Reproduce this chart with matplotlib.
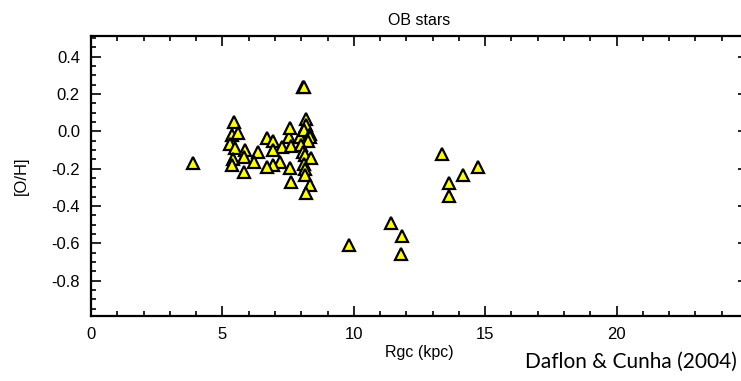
import numpy as np
import matplotlib
matplotlib.use("Agg")
import matplotlib.pyplot as plt
from matplotlib.ticker import MultipleLocator

plt.rcParams['font.family'] = ['Liberation Sans', 'DejaVu Sans']
plt.rcParams['axes.unicode_minus'] = False

# galactocentric distance (kpc) and [O/H] of OB stars
rgc = [3.9, 5.45, 5.35, 5.6, 5.3, 5.48, 5.85, 6.35, 5.4, 5.82, 6.2, 5.35, 5.82,
       6.68, 6.93, 7.55, 7.59, 7.95, 8.07, 8.12, 8.2, 8.2, 8.1, 8.33, 8.35, 8.25,
       7.25, 7.6, 8.0, 6.93, 8.07, 8.15, 8.39, 7.2, 6.93, 6.68, 7.57, 8.1, 8.14,
       8.14, 7.6, 8.35, 8.2,
       9.8, 11.43, 11.85, 11.79,
       13.37, 14.73, 14.16, 13.62, 13.62]
oh = [-0.17, 0.05, -0.02, -0.01, -0.07, -0.09, -0.10, -0.11, -0.15, -0.14, -0.165, -0.18, -0.22,
      -0.035, -0.05, -0.03, 0.018, -0.03, 0.235, 0.235, 0.068, 0.035, 0.005, -0.015, -0.03, -0.055,
      -0.085, -0.08, -0.075, -0.10, -0.11, -0.125, -0.145, -0.165, -0.18, -0.19, -0.195, -0.175, -0.2,
      -0.235, -0.27, -0.29, -0.33,
      -0.61, -0.49, -0.56, -0.66,
      -0.12, -0.19, -0.235, -0.28, -0.345]

xticks = [0, 5, 10, 15, 20]
xticklabels = ['0', '5', '10', '15', '20']
yticks = [-0.8, -0.6, -0.4, -0.2, 0.0, 0.2, 0.4]
yticklabels = ['-0.8', '-0.6', '-0.4', '-0.2', '0.0', '0.2', '0.4']

fig = plt.figure(figsize=(7.41, 3.81), dpi=100)
ax = fig.add_axes([91/741, 1-316/381, (748-91)/741, (316-36)/381])

ax.plot(rgc, oh, ls='none', marker='^', ms=8, mfc='#ffff00', mec='black', mew=1.6)

ax.set_xlim(0, 25)
ax.set_ylim(-0.99, 0.51)
ax.set_xticks(xticks)
ax.set_xticklabels(xticklabels)
ax.set_yticks(yticks)
ax.set_yticklabels(yticklabels)
ax.xaxis.set_minor_locator(MultipleLocator(1))
ax.yaxis.set_minor_locator(MultipleLocator(0.05))
ax.tick_params(which='both', direction='in', top=True, right=True, labelsize=12, width=1.2)
ax.tick_params(which='major', length=7, pad=8)
ax.tick_params(which='minor', length=3.5)
for s in ax.spines.values():
    s.set_linewidth(1.6)

ax.set_title('OB stars', fontsize=11.5, pad=8)
ax.set_xlabel('Rgc (kpc)', fontsize=11.5, labelpad=2)
ax.set_ylabel('[O/H]', fontsize=12, labelpad=16)

fig.text(0.995, 0.05, 'Daflon & Cunha (2004)', ha='right', va='center',
         fontsize=15, family=['Lato', 'DejaVu Sans'])

fig.savefig('out.png', dpi=100)
